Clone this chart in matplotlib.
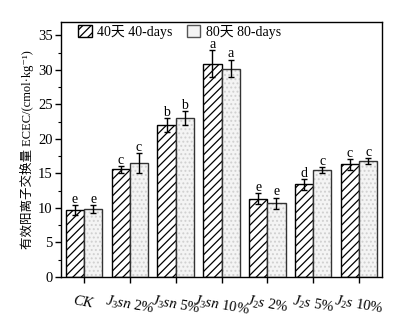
import matplotlib
matplotlib.use("Agg")
import matplotlib.pyplot as plt
import numpy as np
from matplotlib.patches import Patch
from matplotlib.ticker import MultipleLocator

plt.rcParams['font.family'] = ['Liberation Serif', 'Noto Sans CJK SC', 'DejaVu Sans']
plt.rcParams['mathtext.fontset'] = 'custom'
plt.rcParams['mathtext.rm'] = 'Liberation Serif'
plt.rcParams['mathtext.it'] = 'Liberation Serif:italic'
plt.rcParams['hatch.linewidth'] = 0.9

# Treatments and ECEC values (mean, std) for the two sampling times
treatments = [r'$\mathit{CK}$', r'$\mathit{J_3sn\ 2\%}$', r'$\mathit{J_3sn\ 5\%}$',
              r'$\mathit{J_3sn\ 10\%}$', r'$\mathit{J_2s\ 2\%}$', r'$\mathit{J_2s\ 5\%}$',
              r'$\mathit{J_2s\ 10\%}$']
ecec_40 = [9.7, 15.6, 22.0, 30.9, 11.3, 13.4, 16.3]
err_40 = [0.7, 0.5, 1.0, 2.0, 0.8, 0.75, 0.8]
ecec_80 = [9.8, 16.5, 23.0, 30.2, 10.7, 15.5, 16.8]
err_80 = [0.6, 1.5, 1.0, 1.3, 0.8, 0.4, 0.4]
sig_40 = ['e', 'c', 'b', 'a', 'e', 'd', 'c']
sig_80 = ['e', 'c', 'b', 'a', 'e', 'c', 'c']
legend_labels = ['40天 40-days', '80天 80-days']

fig = plt.figure(figsize=(4.02, 3.22), dpi=100)
ax = fig.add_axes([0.152, 0.140, 0.798, 0.793])

x = np.arange(1, len(treatments) + 1)
w = 0.40

# 40-day bars: black diagonal hatch on white
ax.bar(x - w / 2, ecec_40, w, facecolor='white', edgecolor='black',
       hatch='////', linewidth=1.0, zorder=2)
# 80-day bars: light dotted fill, then black outline on top
ax.bar(x + w / 2, ecec_80, w, facecolor='#f4f4f4', edgecolor='#d0d0d0',
       hatch='....', linewidth=0, zorder=2)
ax.bar(x + w / 2, ecec_80, w, facecolor='none', edgecolor='#333333',
       linewidth=1.0, zorder=3)

ax.errorbar(x - w / 2, ecec_40, yerr=err_40, fmt='none', ecolor='black',
            elinewidth=1.0, capsize=2.5, capthick=1.0, zorder=4)
ax.errorbar(x + w / 2, ecec_80, yerr=err_80, fmt='none', ecolor='black',
            elinewidth=1.0, capsize=2.5, capthick=1.0, zorder=4)

for xi, v, e, s in zip(x - w / 2, ecec_40, err_40, sig_40):
    ax.text(xi, v + e + 0.3, s, ha='center', va='baseline', fontsize=10)
for xi, v, e, s in zip(x + w / 2, ecec_80, err_80, sig_80):
    ax.text(xi, v + e + 0.3, s, ha='center', va='baseline', fontsize=10)

ax.set_xlim(0.5, 7.5)
ax.set_ylim(0, 37)
ax.yaxis.set_major_locator(MultipleLocator(5))
ax.yaxis.set_minor_locator(MultipleLocator(2.5))
ax.tick_params(axis='y', which='major', direction='out', length=4, width=1,
               labelsize=10.5, pad=2)
ax.tick_params(axis='y', which='minor', direction='out', length=2, width=0.8)
ax.tick_params(axis='x', direction='out', length=4, width=1, labelsize=10.5, pad=8)
ax.set_xticks(x)
ax.set_xticklabels(treatments, rotation=-10, ha='center')

for sp in ax.spines.values():
    sp.set_linewidth(1.0)

ax.set_ylabel('有效阳离子交换量 ECEC/(cmol·kg⁻¹)', fontsize=9, labelpad=3)

handles = [Patch(facecolor='white', edgecolor='black', hatch='////', linewidth=1.0),
           Patch(facecolor='#f4f4f4', edgecolor='#555555', linewidth=1.0)]
ax.legend(handles, legend_labels, loc='upper left', ncol=2, frameon=False,
          fontsize=10, handlelength=1.0, handleheight=1.0, handletextpad=0.4,
          columnspacing=1.0, borderaxespad=0.0, bbox_to_anchor=(0.035, 1.01))

fig.savefig('out.png', dpi=100)
